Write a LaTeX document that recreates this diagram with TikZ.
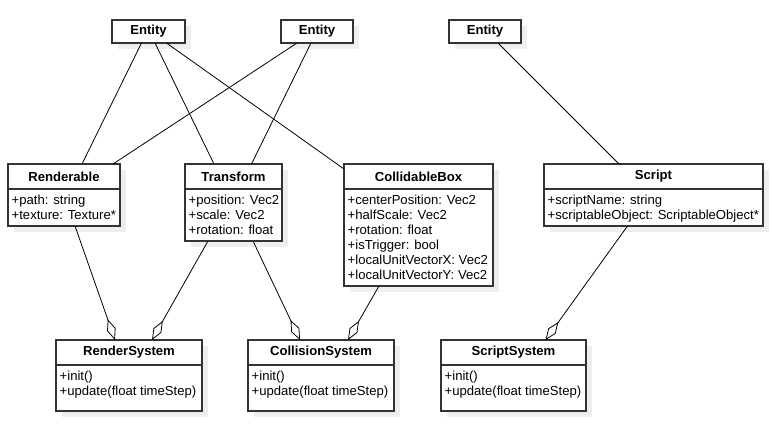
\documentclass[tikz,border=0pt]{standalone}
\usepackage{fontspec}
\setmainfont{Liberation Sans}
\usetikzlibrary{arrows.meta}
\definecolor{boxline}{HTML}{333333}
\definecolor{shadowgray}{HTML}{EEEEEE}
\newcommand\classfont{\fontsize{13.1}{15}\selectfont}
\tikzset{
	classbox/.style={draw=boxline, line width=1.1pt, fill=white, rectangle, anchor=north west, inner sep=0pt, outer sep=0pt},
	classtitle/.style={font=\classfont\bfseries},
	classattrs/.style={align=left, anchor=north west, inner xsep=3.5pt, inner ysep=5.5pt},
	assoc/.style={line width=0.8pt},
	aggr/.style={line width=0.8pt, -{Diamond[open, length=22pt, width=9pt]}},
}
% name, x, y, width, height, title, attributes
\newcommand\umlclass[7]{
	\fill[shadowgray] (#2+6,#3+6) rectangle ++(#4,#5);
	\node[classbox, minimum width=#4, minimum height=#5] (#1) at (#2,#3) {};
	\node[classtitle] (#1-title) at ([yshift=-12.5pt]#1.north) {#6};
	\draw[boxline, line width=1.1pt] ([yshift=-25pt]#1.north west) -- ([yshift=-25pt]#1.north east);
	\node[classattrs] (#1-attrs) at ([yshift=-25pt]#1.north west) {#7};
}
% name, x, y, width
\newcommand\umlentity[4]{
	\fill[shadowgray] (#2+6,#3+6) rectangle ++(#4,23);
	\node[classbox, classtitle, minimum width=#4, minimum height=23] (#1) at (#2,#3) {Entity};
}

\begin{document}
\begin{tikzpicture}[x=1pt, y=-1pt, font=\classfont]
	\useasboundingbox (0,0) rectangle (772,432);
	
	\umlentity{ent1}{112}{20}{73}
	\umlentity{ent2}{281}{20}{72}
	\umlentity{ent3}{449}{20}{72}
	
	\umlclass{rend}{8}{164}{112}{62}{Renderable}{+path: string\\+texture: Texture*}
	\umlclass{trans}{185}{164}{97}{77}{Transform}{+position: Vec2\\+scale: Vec2\\+rotation: float}
	\umlclass{coll}{344}{164}{149}{122}{CollidableBox}{+centerPosition: Vec2\\+halfScale: Vec2\\+rotation: float\\+isTrigger: bool\\+localUnitVectorX: Vec2\\+localUnitVectorY: Vec2}
	\umlclass{script}{544}{164}{219}{62}{Script}{+scriptName: string\\+scriptableObject: ScriptableObject*}
	
	\umlclass{rsys}{56}{340}{146}{71}{RenderSystem}{+init()\\+update(float timeStep)}
	\umlclass{csys}{248}{340}{146}{71}{CollisionSystem}{+init()\\+update(float timeStep)}
	\umlclass{ssys}{441}{340}{145}{71}{ScriptSystem}{+init()\\+update(float timeStep)}
	
	% entities to components
	\draw[assoc] ([xshift=-7pt]ent1.south) -- ([xshift=18pt]rend.north);
	\draw[assoc] ([xshift=6.5pt]ent1.south) -- ([xshift=-19.5pt]trans.north);
	\draw[assoc] ([xshift=18pt]ent1.south) -- ([yshift=-5pt]coll.north west);
	\draw[assoc] ([xshift=-20pt]ent2.south) -- ([xshift=49pt]rend.north);
	\draw[assoc] ([xshift=-6pt]ent2.south) -- ([xshift=18pt]trans.north);
	\draw[assoc] ([xshift=13pt]ent3.south) -- ([xshift=-34.5pt]script.north);
	
	% components to systems
	\draw[aggr] ([xshift=11pt]rend.south) -- ([xshift=-14pt]rsys.north);
	\draw[aggr] ([xshift=-25.5pt]trans.south) -- ([xshift=23pt]rsys.north);
	\draw[aggr] ([xshift=19.5pt]trans.south) -- ([xshift=-21pt]csys.north);
	\draw[aggr] ([xshift=-39.5pt]coll.south) -- ([xshift=27pt]csys.north);
	\draw[aggr] ([xshift=-26pt]script.south) -- ([xshift=32pt]ssys.north);
\end{tikzpicture}
\end{document}
